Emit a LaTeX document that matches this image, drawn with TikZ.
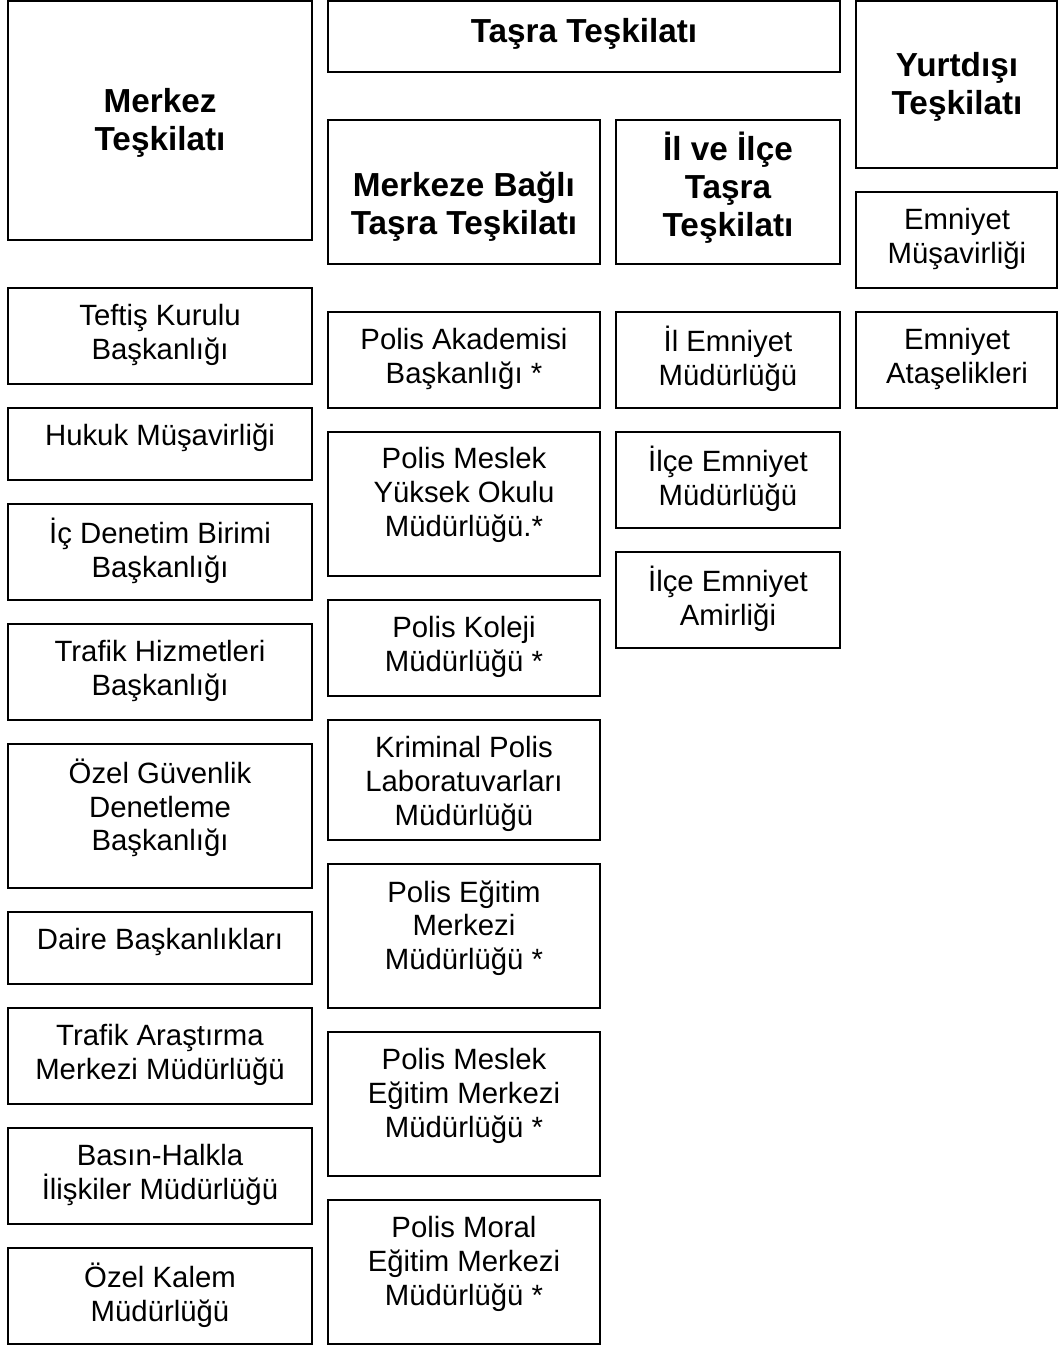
\documentclass[tikz,border=0pt]{standalone}
\usepackage{fontspec}
\setmainfont{Liberation Sans}
\usetikzlibrary{fit}
\tikzset{
  box/.style={draw=black, line width=2pt, inner sep=0pt, rectangle},
  txt/.style={align=center, inner sep=0pt, font=\fontsize{29.33}{33.7}\selectfont},
  head/.style={align=center, inner sep=0pt, font=\fontsize{33.3}{38}\selectfont\bfseries},
}
\newcommand{\bx}[5]{\node[box, fit={(#2,#3) (#4,#5)}] (#1) {};}
\begin{document}
\begin{tikzpicture}[x=1pt,y=-1pt]
\useasboundingbox (0,0) rectangle (1058,1345);
% left column
\bx{merkez}{8}{1}{312}{240}
\bx{teftis}{8}{288}{312}{384}
\bx{hukuk}{8}{408}{312}{480}
\bx{icden}{8}{504}{312}{600}
\bx{trafh}{8}{624}{312}{720}
\bx{ozelg}{8}{744}{312}{888}
\bx{daire}{8}{912}{312}{984}
\bx{trafa}{8}{1008}{312}{1104}
\bx{basin}{8}{1128}{312}{1224}
\bx{ozelk}{8}{1248}{312}{1344}
% middle column
\bx{tasra}{328}{1}{840}{72}
\bx{mbagli}{328}{120}{600}{264}
\bx{akad}{328}{312}{600}{408}
\bx{pmyo}{328}{432}{600}{576}
\bx{kolej}{328}{600}{600}{696}
\bx{krim}{328}{720}{600}{840}
\bx{egitim}{328}{864}{600}{1008}
\bx{pmem}{328}{1032}{600}{1176}
\bx{moral}{328}{1200}{600}{1344}
% third column
\bx{ilve}{616}{120}{840}{264}
\bx{ilem}{616}{312}{840}{408}
\bx{ilcem}{616}{432}{840}{528}
\bx{ilcea}{616}{552}{840}{648}
% right column
\bx{yurt}{856}{1}{1057}{168}
\bx{musav}{856}{192}{1057}{288}
\bx{atase}{856}{312}{1057}{408}
% texts
\node[head] (merkez-t) at (160,123) {Merkez\\Teşkilatı};
\node[head] (tasra-t) at (584,34) {Taşra Teşkilatı};
\node[head] (yurt-t) at (957,87) {Yurtdışı\\Teşkilatı};
\node[head] (mbagli-t) at (464,207) {Merkeze Bağlı\\Taşra Teşkilatı};
\node[head] (ilve-t) at (728,188) {İl ve İlçe\\Taşra\\Teşkilatı};
\node[txt] (teftis-t) at (160,335) {Teftiş Kurulu\\Başkanlığı};
\node[txt] (hukuk-t) at (160,438) {Hukuk Müşavirliği};
\node[txt] (icden-t) at (160,551) {İç Denetim Birimi\\Başkanlığı};
\node[txt] (trafh-t) at (160,671) {Trafik Hizmetleri\\Başkanlığı};
\node[txt] (ozelg-t) at (160,808) {Özel Güvenlik\\Denetleme\\Başkanlığı};
\node[txt] (daire-t) at (160,942) {Daire Başkanlıkları};
\node[txt] (trafa-t) at (160,1055) {Trafik Araştırma\\Merkezi Müdürlüğü};
\node[txt] (basin-t) at (160,1175) {Basın-Halkla\\İlişkiler Müdürlüğü};
\node[txt] (ozelk-t) at (160,1295) {Özel Kalem\\Müdürlüğü};
\node[txt] (akad-t) at (464,359) {Polis Akademisi\\Başkanlığı *};
\node[txt] (pmyo-t) at (464,495) {Polis Meslek\\Yüksek Okulu\\Müdürlüğü.*};
\node[txt] (kolej-t) at (464,647) {Polis Koleji\\Müdürlüğü *};
\node[txt] (krim-t) at (464,784) {Kriminal Polis\\Laboratuvarları\\Müdürlüğü};
\node[txt] (egitim-t) at (464,928) {Polis Eğitim\\Merkezi\\Müdürlüğü *};
\node[txt] (pmem-t) at (464,1096) {Polis Meslek\\Eğitim Merkezi\\Müdürlüğü *};
\node[txt] (moral-t) at (464,1264) {Polis Moral\\Eğitim Merkezi\\Müdürlüğü *};
\node[txt] (ilem-t) at (728,359) {İl Emniyet\\Müdürlüğü};
\node[txt] (ilcem-t) at (728,479) {İlçe Emniyet\\Müdürlüğü};
\node[txt] (ilcea-t) at (728,599) {İlçe Emniyet\\Amirliği};
\node[txt] (musav-t) at (957,239) {Emniyet\\Müşavirliği};
\node[txt] (atase-t) at (957,359) {Emniyet\\Ataşelikleri};
\end{tikzpicture}
\end{document}
